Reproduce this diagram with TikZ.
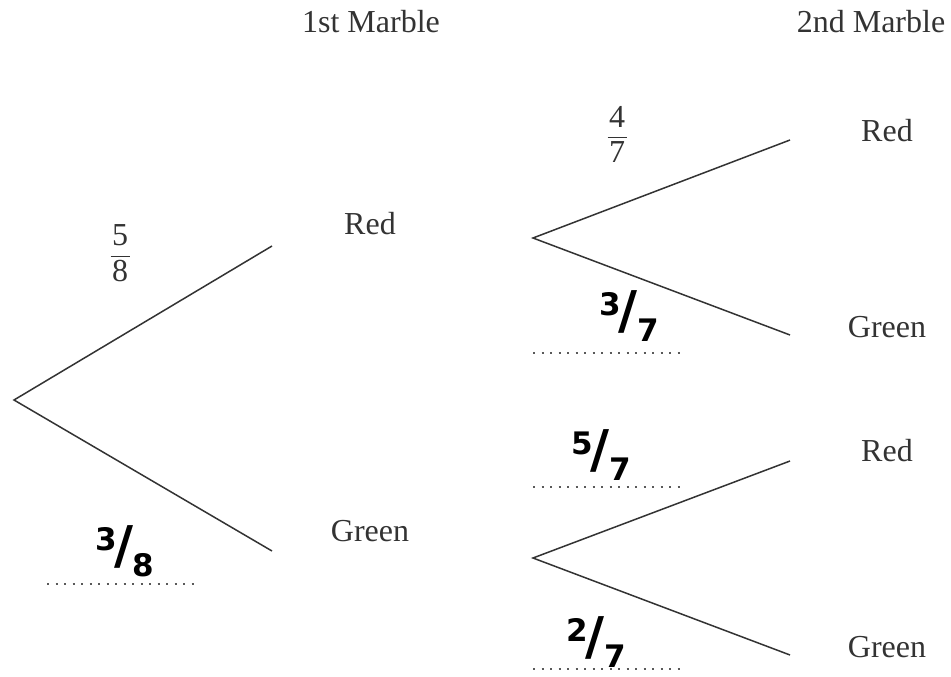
\documentclass[tikz,border=0pt]{standalone}
\usepackage{amsmath}
\usepackage{fontspec}
\setmainfont{Liberation Serif}
\newfontfamily\handfont{DejaVu Sans}
\newcommand{\hfrac}[2]{{\handfont\bfseries\raisebox{13pt}{#1}\kern-3pt{\fontsize{52}{52}\selectfont /}\kern0pt\raisebox{-13pt}{#2}}}
\newcommand{\pfrac}[2]{$\dfrac{\text{\kern1.5pt#1\kern1.5pt}}{\text{\kern1.5pt#2\kern1.5pt}}$}
\tikzset{
  x=1pt, y=-1pt,
  branch/.style={draw=black!80, line width=1.5pt},
  lbl/.style={font=\fontsize{32}{38}\selectfont, text=black!80, inner sep=0pt},
  hand/.style={font=\fontsize{31}{36}\selectfont, inner sep=0pt},
  blank/.style={draw=black!65, line width=2.4pt, dash pattern=on 2.4pt off 6.1pt}
}
\begin{document}
\begin{tikzpicture}
\useasboundingbox (0,0) rectangle (951,677);
% headings
\node[lbl] (h1) at (371,22) {1st Marble};
\node[lbl] (h2) at (871,22) {2nd Marble};
% first stage
\coordinate (r) at (14,400);
\coordinate (r1) at (272,246);
\coordinate (r2) at (272,551);
\draw[branch] (r1) -- (r) -- (r2);
\node[lbl] (red1) at (370,224) {Red};
\node[lbl] (green1) at (370,531) {Green};
\node[lbl] (f58) at (120,253) {\pfrac{5}{8}};
% second stage, upper
\coordinate (a) at (533,238);
\coordinate (a1) at (790,140);
\coordinate (a2) at (790,335);
\draw[branch] (a1) -- (a) -- (a2);
\node[lbl] (red2) at (887,131) {Red};
\node[lbl] (green2) at (887,327) {Green};
\node[lbl] (f47) at (617,134) {\pfrac{4}{7}};
% second stage, lower
\coordinate (b) at (533,558);
\coordinate (b1) at (790,461);
\coordinate (b2) at (790,655);
\draw[branch] (b1) -- (b) -- (b2);
\node[lbl] (red3) at (887,451) {Red};
\node[lbl] (green3) at (887,647) {Green};
% dotted answer lines
\coordinate (d1a) at (47,584);  \coordinate (d1b) at (197,584);
\coordinate (d2a) at (533,353); \coordinate (d2b) at (681,353);
\coordinate (d3a) at (533,487); \coordinate (d3b) at (681,487);
\coordinate (d4a) at (533,669); \coordinate (d4b) at (681,669);
\draw[blank] (d1a) -- (d1b);
\draw[blank] (d2a) -- (d2b);
\draw[blank] (d3a) -- (d3b);
\draw[blank] (d4a) -- (d4b);
% handwritten answers
\node[hand] (w38) at (125,551) {\hfrac{3}{8}};
\node[hand] (w37) at (629,316) {\hfrac{3}{7}};
\node[hand] (w57) at (601,455) {\hfrac{5}{7}};
\node[hand] (w27) at (596,642) {\hfrac{2}{7}};
\end{tikzpicture}
\end{document}
